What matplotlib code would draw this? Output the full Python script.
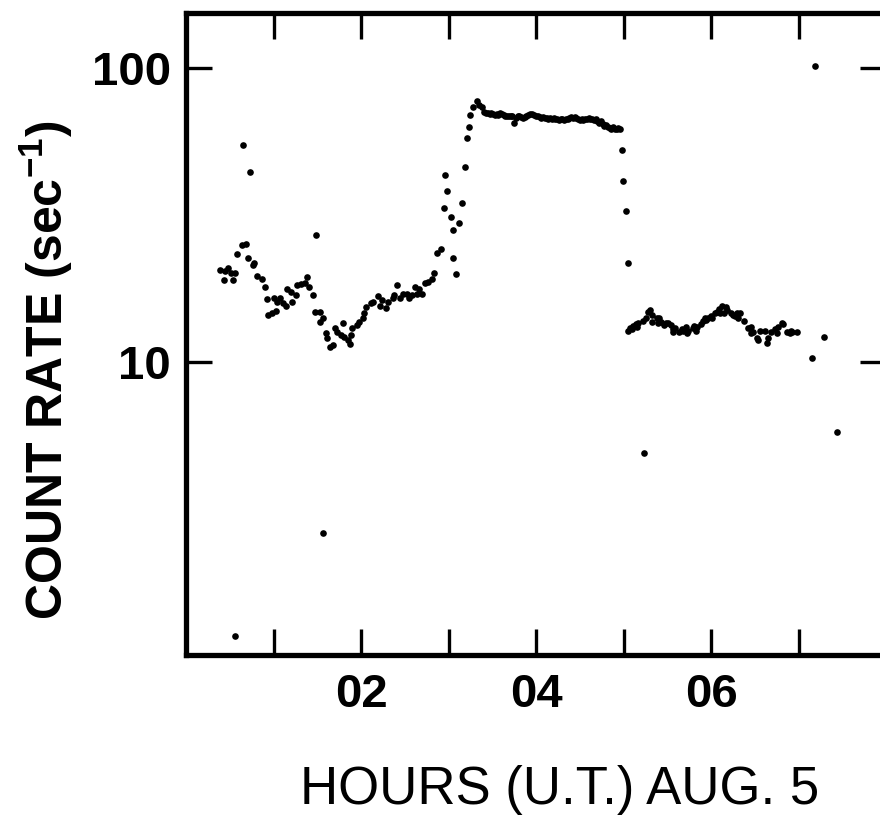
import matplotlib
matplotlib.use('Agg')
import matplotlib.pyplot as plt
from matplotlib.ticker import NullLocator

plt.rcParams['mathtext.fontset'] = 'custom'
plt.rcParams['mathtext.rm'] = 'Liberation Sans'
plt.rcParams['mathtext.bf'] = 'Liberation Sans:bold'

# ---------------- data ----------------
early_hours = [0.39, 0.43, 0.45, 0.48, 0.51, 0.54, 0.56, 0.58, 0.64, 0.69, 0.71, 0.76,
               0.78, 0.81, 0.87, 0.90, 0.93, 0.94, 0.98, 1.01, 1.03, 1.04, 1.07, 1.11,
               1.14, 1.15, 1.20, 1.21, 1.26, 1.27, 1.31, 1.36, 1.38, 1.41, 1.45, 1.47,
               1.53, 1.53, 1.57, 1.60, 1.61, 1.64, 1.68, 1.70, 1.73, 1.77, 1.79, 1.81,
               1.85, 1.87, 1.89, 1.90, 1.95, 1.98, 2.02, 2.03, 2.06, 2.11, 2.14, 2.19,
               2.22, 2.24, 2.28, 2.31, 2.36, 2.38, 2.41, 2.44, 2.48, 2.52, 2.55, 2.58,
               2.62, 2.64, 2.66, 2.70, 2.73, 2.77, 2.81, 2.83, 2.87, 2.91, 2.95, 2.96,
               2.98, 3.03, 3.05, 3.05, 3.09, 3.12, 3.15, 3.19, 3.21, 3.23, 3.24, 3.28,
               3.32, 3.35, 3.38]
early_rate = [20.5, 18.9, 20.3, 20.8, 20.1, 18.9, 20.1, 23.2, 24.9, 25.1, 22.5, 21.3,
              21.6, 19.5, 19.1, 17.9, 16.3, 14.4, 14.6, 16.5, 14.9, 16.0, 16.4, 15.8,
              15.5, 17.7, 17.3, 16.0, 16.9, 18.2, 18.3, 18.5, 19.4, 17.9, 16.8, 14.8,
              14.8, 13.6, 14.1, 12.5, 12.0, 11.2, 11.4, 13.0, 12.6, 12.3, 13.5, 12.1,
              11.8, 11.5, 12.3, 13.0, 13.3, 13.6, 14.1, 14.6, 15.3, 15.8, 15.9, 16.7,
              15.5, 16.2, 15.2, 15.9, 16.4, 16.9, 18.2, 16.5, 17.0, 17.0, 16.4, 16.8,
              17.9, 17.0, 17.6, 17.0, 18.5, 18.6, 19.1, 20.1, 23.4, 24.1, 33.3, 43.1,
              38.1, 31.0, 28.0, 22.5, 19.8, 29.6, 34.6, 45.9, 57.6, 62.8, 69.0, 73.5,
              77.0, 74.6, 73.5]

plateau_hours = [3.41, 3.43, 3.45, 3.47, 3.49, 3.51, 3.53, 3.55, 3.57, 3.59, 3.61, 3.63,
                 3.65, 3.67, 3.69, 3.71, 3.73, 3.75, 3.77, 3.79, 3.81, 3.83, 3.85, 3.87,
                 3.89, 3.91, 3.93, 3.95, 3.98, 4.00, 4.02, 4.04, 4.06, 4.08, 4.10, 4.12,
                 4.14, 4.16, 4.18, 4.20, 4.22, 4.24, 4.26, 4.28, 4.30, 4.32, 4.34, 4.36,
                 4.38, 4.40, 4.42, 4.44, 4.46, 4.48, 4.50, 4.52, 4.54, 4.56, 4.58, 4.60,
                 4.62, 4.64, 4.66, 4.68, 4.70, 4.72, 4.74, 4.76, 4.78, 4.80, 4.82, 4.84,
                 4.86, 4.88, 4.90, 4.92, 4.94, 4.96]
plateau_rate = [71.0, 70.5, 70.0, 69.6, 70.0, 69.6, 69.2, 69.6, 69.2, 70.0, 69.6, 69.2,
                68.8, 68.5, 68.5, 68.8, 68.5, 65.2, 67.8, 68.5, 68.8, 68.1, 67.8, 68.1,
                68.5, 69.2, 69.6, 69.6, 69.2, 68.5, 68.8, 68.1, 67.8, 68.1, 67.4, 67.8,
                67.3, 67.4, 67.1, 67.4, 66.8, 67.1, 66.5, 66.8, 67.1, 66.5, 66.8, 67.1,
                67.8, 68.1, 67.8, 68.1, 67.4, 67.1, 66.5, 66.8, 66.5, 66.8, 67.1, 67.4,
                67.1, 66.8, 66.5, 66.8, 65.8, 65.1, 65.8, 64.5, 63.5, 64.0, 63.1, 62.5,
                61.8, 62.8, 62.0, 61.8, 62.5, 61.8]

decay_hours = [4.98, 4.99, 5.03, 5.05]
decay_rate = [52.5, 41.1, 32.7, 21.6]

late_hours = [5.05, 5.07, 5.10, 5.11, 5.14, 5.15, 5.17, 5.22, 5.26, 5.28, 5.30, 5.32,
              5.33, 5.38, 5.39, 5.40, 5.43, 5.46, 5.49, 5.51, 5.54, 5.57, 5.57, 5.59,
              5.63, 5.67, 5.68, 5.71, 5.73, 5.74, 5.79, 5.81, 5.83, 5.84, 5.88, 5.91,
              5.93, 5.94, 5.97, 6.00, 6.01, 6.04, 6.07, 6.09, 6.10, 6.13, 6.15, 6.17,
              6.18, 6.23, 6.25, 6.27, 6.30, 6.31, 6.33, 6.38, 6.42, 6.46, 6.46, 6.48,
              6.52, 6.54, 6.56, 6.62, 6.64, 6.65, 6.69, 6.73, 6.75, 6.77, 6.81, 6.82,
              6.87, 6.90, 6.91, 6.93, 6.98]
late_rate = [12.66, 12.96, 12.86, 13.17, 13.38, 13.07, 13.48, 13.69, 14.12, 14.70, 14.93, 14.36,
             13.59, 14.02, 13.48, 14.12, 13.59, 13.27, 13.48, 13.48, 13.27, 12.56, 12.86, 12.96,
             12.56, 12.86, 12.66, 13.07, 12.46, 12.66, 12.96, 13.17, 12.66, 13.07, 13.38, 13.69,
             14.02, 13.80, 14.12, 14.24, 14.02, 14.58, 14.70, 15.05, 14.58, 15.41, 14.58, 15.29,
             14.93, 14.58, 14.36, 14.24, 14.58, 14.02, 14.58, 13.69, 12.96, 12.46, 13.07, 12.56,
             12.07, 11.80, 12.66, 12.66, 11.60, 11.98, 12.56, 12.86, 12.46, 13.07, 13.48, 13.38,
             12.56, 12.46, 12.66, 12.56, 12.56]

stray_hours = [0.56, 0.65, 0.73, 1.49, 1.57, 5.23, 7.15, 7.19, 7.29, 7.44]
stray_rate = [1.16, 54.6, 44.2, 26.9, 2.61, 4.89, 10.3, 101.6, 12.1, 5.73]

xtick_hours = [1, 2, 3, 4, 5, 6, 7]
xtick_labels = ['', '02', '', '04', '', '06', '']
ytick_values = [10, 100]
ytick_labels = ['10', '100']

# ---------------- figure ----------------
W, H = 880, 816
fig = plt.figure(figsize=(W / 100, H / 100), dpi=100)
ax = fig.add_axes([186 / W, (H - 655) / H, 700 / W, (655 - 13) / H])

dot = dict(s=23, c='black', linewidths=0, marker='o', clip_on=False)
for xs, ys in [(early_hours, early_rate), (plateau_hours, plateau_rate),
               (decay_hours, decay_rate), (late_hours, late_rate),
               (stray_hours, stray_rate)]:
    ax.scatter(xs, ys, **dot)

ax.set_yscale('log')
ax.set_xlim(0, 8)
ax.set_ylim(1, 154)

ax.set_xticks(xtick_hours)
ax.set_xticklabels(xtick_labels)
ax.set_yticks(ytick_values)
ax.set_yticklabels(ytick_labels)
ax.yaxis.set_minor_locator(NullLocator())
ax.xaxis.set_minor_locator(NullLocator())

ax.tick_params(direction='in', length=19, width=2.4, top=True, right=True,
               colors='black')
ax.tick_params(axis='x', pad=13)
ax.tick_params(axis='y', pad=11)
for lab in ax.get_xticklabels() + ax.get_yticklabels():
    lab.set_fontfamily(['Liberation Sans', 'DejaVu Sans'])
    lab.set_fontweight('bold')
    lab.set_fontsize(34)

for sp in ax.spines.values():
    sp.set_linewidth(3.8)
    sp.set_color('black')

fig.text(46 / W, 1 - 370 / H, r'COUNT RATE (sec$^{\mathbf{-1}}$)',
         rotation=90, ha='center', va='center', fontsize=36, fontweight='bold',
         family=['Liberation Sans', 'DejaVu Sans'])
fig.text(560 / W, 1 - 790 / H, 'HOURS (U.T.) AUG. 5',
         ha='center', va='center', fontsize=38,
         family=['Liberation Sans', 'DejaVu Sans'])

fig.savefig('out.png', dpi=100, facecolor='white')
